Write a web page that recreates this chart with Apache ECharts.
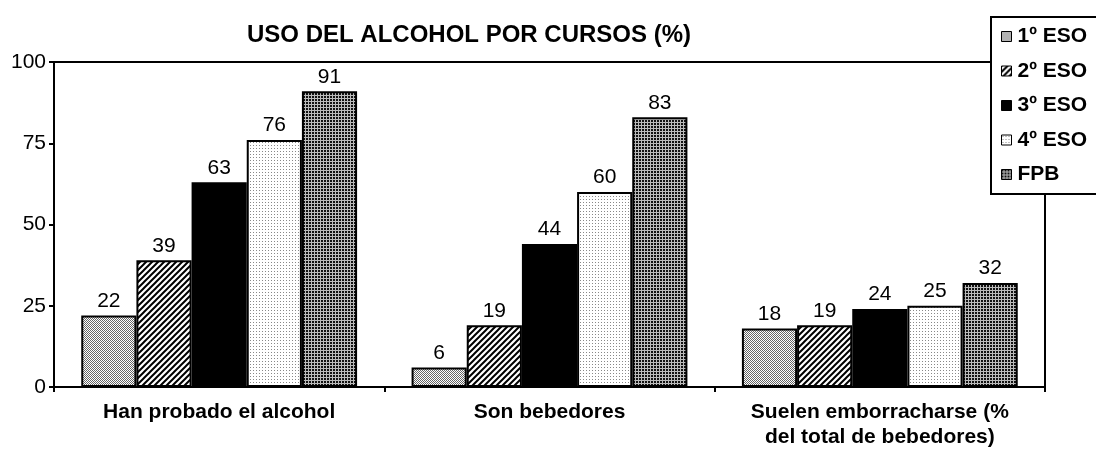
<!DOCTYPE html>
<html>
<head>
<meta charset="utf-8">
<script src="https://cdn.jsdelivr.net/npm/echarts@6/dist/echarts.min.js"></script>
<style>
  html, body { margin: 0; padding: 0; background: #fff; overflow: hidden; }
  #chart { width: 1096px; height: 455px; }
</style>
</head>
<body>
<div id="chart"></div>
<script>
var categories = ['Han probado el alcohol', 'Son bebedores', 'Suelen emborracharse (%\ndel total de bebedores)']
var seriesNames = ['1º ESO', '2º ESO', '3º ESO', '4º ESO', 'FPB']
var eso1 = [22, 6, 18]
var eso2 = [39, 19, 19]
var eso3 = [63, 44, 24]
var eso4 = [76, 60, 25]
var fpb = [91, 83, 32]
var yTicks = [0, 25, 50, 75, 100]

// small canvas tiles used as fill patterns
function tile (size, draw) {
    var c = document.createElement('canvas')
    c.width = size
    c.height = size
    var ctx = c.getContext('2d')
    ctx.fillStyle = '#fff'
    ctx.fillRect(0, 0, size, size)
    draw(ctx)
    return { image: c, repeat: 'repeat' }
}

var fills = [
    // fine gray dots
    tile(2, function (ctx) {
        ctx.fillStyle = '#666'
        ctx.fillRect(0, 0, 1, 1)
        ctx.fillRect(1, 1, 1, 1)
    }),
    // diagonal hatching
    tile(6, function (ctx) {
        ctx.strokeStyle = '#000'
        ctx.lineWidth = 2
        ctx.beginPath()
        ctx.moveTo(-1, 7); ctx.lineTo(7, -1)
        ctx.moveTo(-4, 4); ctx.lineTo(4, -4)
        ctx.moveTo(2, 10); ctx.lineTo(10, 2)
        ctx.stroke()
    }),
    '#000',
    // sparse dots
    tile(3, function (ctx) {
        ctx.fillStyle = '#888'
        ctx.fillRect(1, 1, 1, 1)
    }),
    // dense grid
    tile(3, function (ctx) {
        ctx.fillStyle = '#bbb'
        ctx.fillRect(0, 0, 3, 3)
        ctx.fillStyle = '#111'
        ctx.fillRect(0, 0, 2, 2)
    })
]

var values = [eso1, eso2, eso3, eso4, fpb]
var chart = echarts.init(document.getElementById('chart'))
var font = 'Liberation Sans, Arial, sans-serif'

chart.setOption({
    animation: false,
    textStyle: { fontFamily: font },
    title: {
        text: 'USO DEL ALCOHOL POR CURSOS (%)',
        left: 464,
        top: 18,
        textAlign: 'center',
        textStyle: { fontSize: 24, fontWeight: 'bold', color: '#000', fontFamily: font }
    },
    legend: {
        data: seriesNames,
        orient: 'vertical',
        left: 991,
        top: 17,
        padding: [9, 70, 9, 10],
        icon: 'rect',
        itemWidth: 10,
        itemHeight: 10,
        itemGap: 13.5,
        borderColor: '#000',
        borderWidth: 2,
        backgroundColor: '#fff',
        z: 10,
        itemStyle: { borderColor: '#000', borderWidth: 1 },
        textStyle: { fontSize: 21, lineHeight: 21, fontWeight: 'bold', color: '#000', fontFamily: font, padding: [0, 0, 0, 1] }
    },
    grid: {
        left: 54,
        right: 51,
        top: 62,
        bottom: 68,
        show: true,
        borderColor: '#000',
        borderWidth: 2,
        backgroundColor: 'transparent'
    },
    xAxis: {
        type: 'category',
        data: categories,
        axisLine: { lineStyle: { color: '#000', width: 2 } },
        axisTick: { show: true, interval: 0, length: 5, lineStyle: { color: '#000', width: 2 } },
        axisLabel: {
            interval: 0,
            fontSize: 21,
            fontWeight: 'bold',
            color: '#000',
            margin: 13,
            lineHeight: 25,
            fontFamily: font
        }
    },
    yAxis: {
        type: 'value',
        min: 0,
        max: 100,
        interval: 25,
        axisLine: { show: true, lineStyle: { color: '#000', width: 2 } },
        axisTick: { show: true, length: 5, lineStyle: { color: '#000', width: 2 } },
        splitLine: { show: false },
        axisLabel: {
            fontSize: 21,
            color: '#000',
            margin: 8,
            fontFamily: font,
            formatter: function (v) { return yTicks.indexOf(v) >= 0 ? String(v) : '' }
        }
    },
    series: seriesNames.map(function (name, i) {
        return {
            name: name,
            type: 'bar',
            data: values[i],
            barGap: '0%',
            barCategoryGap: '16.5%',
            itemStyle: { color: fills[i], borderColor: '#000', borderWidth: 2 },
            label: {
                show: true,
                position: 'top',
                distance: 4,
                fontSize: 21,
                color: '#000',
                fontFamily: font
            }
        }
    })
})
</script>
</body>
</html>
